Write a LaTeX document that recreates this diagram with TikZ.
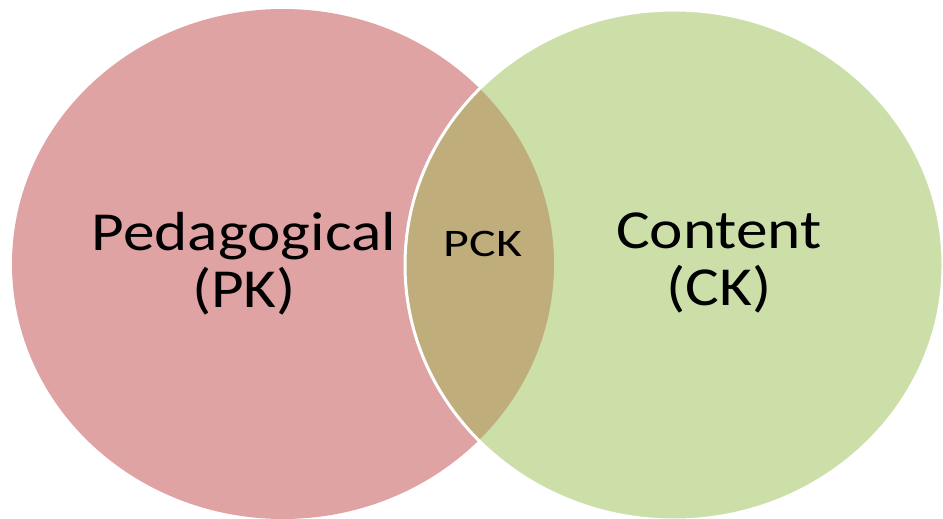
\documentclass[tikz,border=0pt]{standalone}
\usepackage{fontspec}
\setmainfont{Carlito}
\newfontfamily\lblfont[FakeStretch=1.15]{Carlito}
\newfontfamily\pckfont[FakeStretch=1.28]{Carlito}
\usetikzlibrary{calc}
\definecolor{pkrot}{HTML}{E0A3A4}
\definecolor{ckgruen}{HTML}{CDDFA9}
\definecolor{pckbraun}{HTML}{BFAE7C}
\tikzset{
  feld/.style={line width=0pt},
  rand/.style={draw=white,line width=3pt},
  lbl/.style={align=center,inner sep=0pt,font=\lblfont\fontsize{55}{57}\selectfont},
  lblk/.style={inner sep=0pt,font=\pckfont\fontsize{39}{40}\selectfont},
}

\begin{document}
\begin{tikzpicture}[x=1pt,y=-1pt]
  \useasboundingbox (0,0) rectangle (943,519);
  \fill[pkrot] (283,264) ellipse [x radius=271,y radius=255];
  \fill[ckgruen] (674,265) ellipse [x radius=269,y radius=255];
  % Schnittmenge
  \begin{scope}
    \clip (283,264) ellipse [x radius=271,y radius=255];
    \fill[pckbraun] (674,265) ellipse [x radius=269,y radius=255];
  \end{scope}
  \draw[rand] (674,265) ellipse [x radius=269,y radius=255];
  \node[lbl,anchor=base] (pk) at (244,307) {Pedagogical\\(PK)};
  \node[lbl,anchor=base] (ck) at (719,305) {Content\\(CK)};
  \node[lblk,anchor=base] (pck) at (483,256) {PCK};
\end{tikzpicture}
\end{document}
